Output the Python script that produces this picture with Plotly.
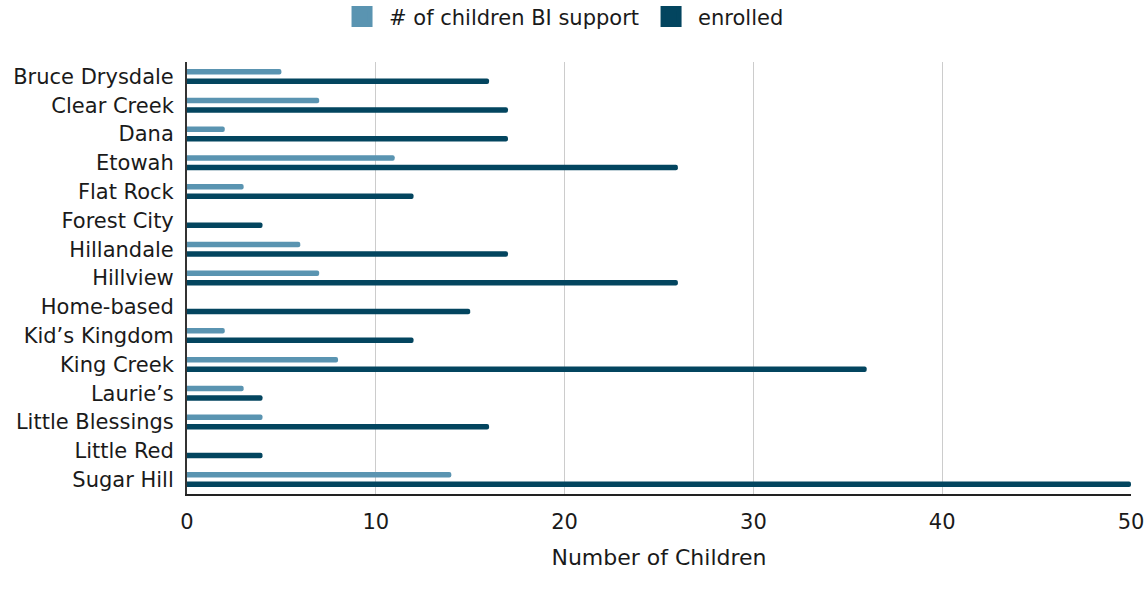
import plotly.graph_objects as go

categories = ["Bruce Drysdale", "Clear Creek", "Dana", "Etowah", "Flat Rock",
              "Forest City", "Hillandale", "Hillview", "Home-based", "Kid\u2019s Kingdom",
              "King Creek", "Laurie\u2019s", "Little Blessings", "Little Red", "Sugar Hill"]
bi_support = [5, 7, 2, 11, 3, 0, 6, 7, 0, 2, 8, 3, 4, 0, 14]
enrolled = [16, 17, 17, 26, 12, 4, 17, 26, 15, 12, 36, 4, 16, 4, 50]

series_names = ["# of children BI support", "enrolled"]
series_colors = ["#5a94b1", "#03455f"]

fig = go.Figure()
for name, vals, col in zip(series_names, [bi_support, enrolled], series_colors):
    fig.add_trace(go.Bar(y=categories, x=vals, orientation="h", name=name,
                         marker_color=col, marker_line_width=0, showlegend=False))
# legend-only entries with square swatches
for name, col in zip(series_names, series_colors):
    fig.add_trace(go.Scatter(x=[None], y=[None], mode="markers", name=name,
                             marker=dict(symbol="square", size=16, color=col,
                                         line=dict(color=col, width=5)),
                             showlegend=True))

FONT = '"DejaVu Sans", "Liberation Sans", Arial, sans-serif'
fig.update_layout(
    width=1147, height=598,
    margin=dict(l=187, r=16, t=62, b=104, autoexpand=False),
    barmode="group", bargap=0.34, bargroupgap=0.42, barcornerradius=3,
    plot_bgcolor="white", paper_bgcolor="white",
    font=dict(family=FONT, size=21, color="#1a1a1a"),
    legend=dict(orientation="h", x=0.49, xanchor="center", xref="container",
                y=0.972, yanchor="middle", yref="container", font=dict(size=21),
                itemsizing="trace", traceorder="normal", itemwidth=44),
)
fig.update_xaxes(range=[0, 50], dtick=10, showgrid=True, gridcolor="#cccccc", gridwidth=1,
                 zeroline=False, showline=True, linecolor="#222222", linewidth=2,
                 ticks="", ticklabelstandoff=8, automargin=False,
                 title=dict(text="Number of Children", font=dict(size=22), standoff=16))
fig.update_yaxes(categoryorder="array", categoryarray=categories, autorange="reversed",
                 showline=True, linecolor="#333333", linewidth=2, ticks="",
                 ticklabelstandoff=7, showgrid=False, automargin=False)

fig.write_html("out.html", post_script="document.body.style.margin='0';",
               config={"displayModeBar": False})
